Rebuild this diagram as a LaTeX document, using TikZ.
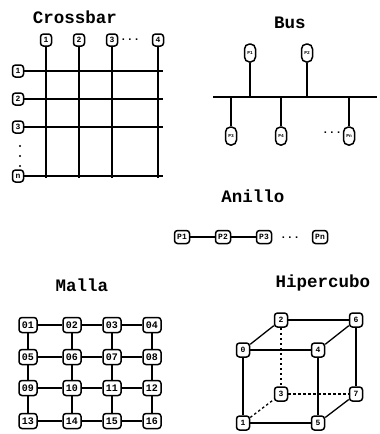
\documentclass[tikz,border=0pt]{standalone}
\usepackage{fontspec}
\setmonofont{Liberation Mono}
\begin{document}
\begin{tikzpicture}[x=1pt,y=-1pt,
  title/.style={font=\ttfamily\bfseries\fontsize{17.5}{17.5}\selectfont},
  pbox/.style={draw,line width=1.5pt,rounded corners=3pt,fill=white,inner sep=0pt,
    minimum width=11pt,minimum height=12pt,font=\ttfamily\bfseries\fontsize{8}{8}\selectfont},
  busbox/.style={pbox,rounded corners=5pt,minimum width=11pt,minimum height=18pt,
    font=\ttfamily\bfseries\fontsize{4.5}{4.5}\selectfont},
  ringbox/.style={pbox,minimum width=15pt,minimum height=13pt,font=\ttfamily\bfseries\fontsize{8}{8}\selectfont},
  meshbox/.style={pbox,minimum width=18pt,minimum height=15pt,font=\ttfamily\bfseries\fontsize{10}{10}\selectfont},
  cubebox/.style={pbox,minimum width=13pt,minimum height=14pt,font=\ttfamily\bfseries\fontsize{8}{8}\selectfont},
  dots/.style={font=\ttfamily\bfseries\fontsize{11}{11}\selectfont,inner sep=0pt},
  ln/.style={line width=1.3pt},
  dl/.style={line width=1.3pt,dash pattern=on 2.5pt off 2.5pt}]
\useasboundingbox (0,0) rectangle (380,434);

% ---------- Crossbar ----------
\node[title] (tcb) at (75,17) {Crossbar};
\foreach \n/\x/\t in {c1/46/1,c2/79/2,c3/112/3,c4/158/4}{
  \coordinate (\n e) at (\x,178);
  \draw[ln] (\x,40) -- (\n e);
}
\foreach \n/\y/\t in {r1/71/1,r2/99/2,r3/127/3,rn/176/n}{
  \coordinate (\n e) at (163,\y);
  \draw[ln] (18,\y) -- (\n e);
}
\foreach \n/\x/\t in {c1/46/1,c2/79/2,c3/112/3,c4/158/4}{
  \node[pbox] (\n) at (\x,40) {\t};
}
\foreach \n/\y/\t in {r1/71/1,r2/99/2,r3/127/3,rn/176/n}{
  \node[pbox] (\n) at (18,\y) {\t};
}
\node[dots] (cdots) at (130,40) {...};
\fill (20,146) circle (1.1pt) (20,156) circle (1.1pt) (20,166) circle (1.1pt);

% ---------- Bus ----------
\node[title] (tbus) at (290,23) {Bus};
\coordinate (bl) at (213,97);
\coordinate (br) at (377,97);
\draw[line width=2.2pt] (bl) -- (br);
\node[busbox] (bt1) at (250,53) {P1};
\node[busbox] (bt2) at (307,53) {P2};
\node[busbox] (bb1) at (231,136) {P3};
\node[busbox] (bb2) at (281,136) {P4};
\node[busbox] (bbn) at (349,136) {Pn};
\node[dots] (bdots) at (332,133) {...};
\foreach \n in {bt1,bt2,bb1,bb2,bbn}{
  \draw[ln] (\n) -- (\n |- bl);
}

% ---------- Anillo ----------
\node[title] (tan) at (253,196) {Anillo};
\node[ringbox] (a1) at (182,237) {P1};
\node[ringbox] (a2) at (223,237) {P2};
\node[ringbox] (a3) at (264,237) {P3};
\node[ringbox] (an) at (320,237) {Pn};
\node[dots] (adots) at (290,238) {...};
\draw[ln] (a1) -- (a2);
\draw[ln] (a2) -- (a3);

% ---------- Malla ----------
\node[title] (tma) at (82,285) {Malla};
\foreach \i/\y in {0/325,1/357,2/388,3/421}{
  \foreach \j/\x in {1/28,2/72,3/112,4/152}{
    \pgfmathtruncatemacro{\k}{\i*4+\j}
    \node[meshbox] (m\k) at (\x,\y) {\ifnum\k<10 0\fi\k};
  }
}
\foreach \a/\b in {1/2,2/3,3/4,5/6,6/7,7/8,9/10,10/11,11/12,13/14,14/15,15/16,
  1/5,5/9,9/13,2/6,6/10,10/14,3/7,7/11,11/15,4/8,8/12,12/16}{
  \draw[ln] (m\a) -- (m\b);
}

% ---------- Hipercubo ----------
\node[title] (thc) at (323,283) {Hipercubo};
\node[cubebox] (h2) at (281,320) {2};
\node[cubebox] (h6) at (356,320) {6};
\node[cubebox] (h0) at (243,350) {0};
\node[cubebox] (h4) at (318,350) {4};
\node[cubebox] (h3) at (281,394) {3};
\node[cubebox] (h7) at (356,394) {7};
\node[cubebox] (h1) at (243,423) {1};
\node[cubebox] (h5) at (318,423) {5};
\foreach \a/\b in {0/2,2/6,0/4,4/6,0/1,4/5,6/7,1/5,5/7}{
  \draw[ln] (h\a) -- (h\b);
}
\foreach \a/\b in {2/3,3/7,1/3}{
  \draw[dl] (h\a) -- (h\b);
}
\end{tikzpicture}
\end{document}
